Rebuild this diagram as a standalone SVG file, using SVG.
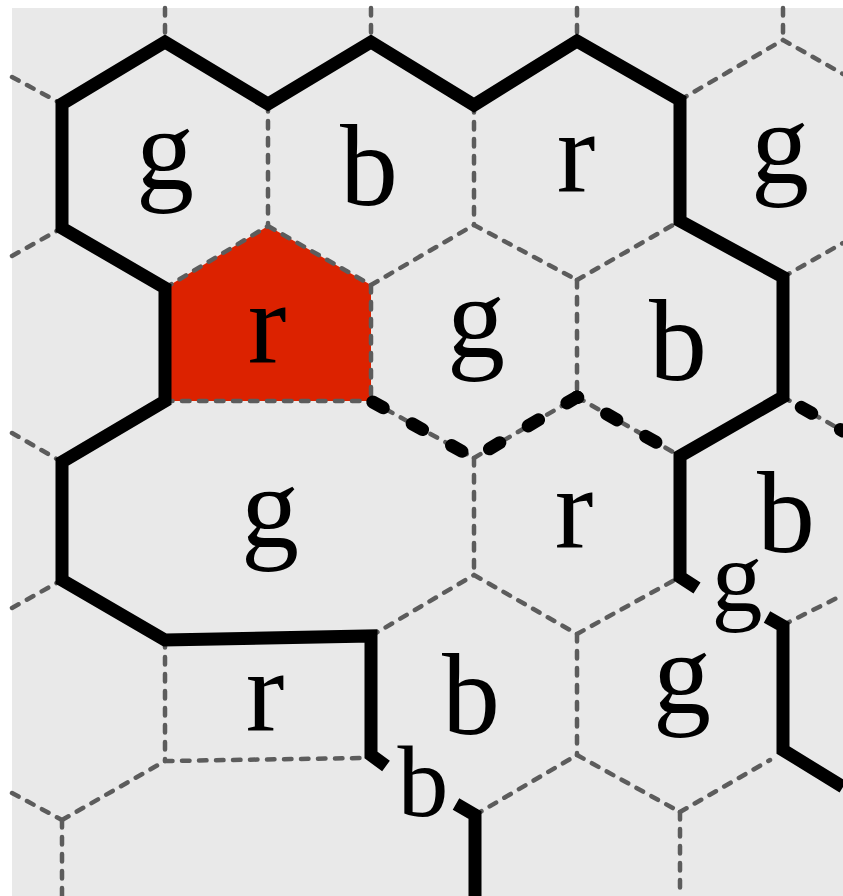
<svg xmlns="http://www.w3.org/2000/svg" width="843" height="896" viewBox="0 0 843 896">
<style>
.bg{fill:#e9e9e9}
.grid{fill:none;stroke:#5c5c5c;stroke-width:4.5;stroke-linecap:round;stroke-dasharray:7.5 9.5}
.wall{fill:none;stroke:#000;stroke-width:13;stroke-linejoin:miter;stroke-miterlimit:10;stroke-linecap:butt}
.weak{fill:none;stroke:#000;stroke-width:13;stroke-linecap:round;stroke-dasharray:12 33}
.lbl{font-family:'Liberation Serif','Times New Roman',Tinos,serif;font-size:116px;fill:#000;text-anchor:middle}
.sm{font-size:102px}
</style>
<rect width="843" height="896" fill="#ffffff"/>
<rect class="bg" x="12" y="8" width="831" height="888"/>
<g id="cell-red">
<polygon points="165,288 268,226 371,285 371,401 165,401" fill="#dc2200"/>
</g>
<g id="connectors">
<g id="grid-lines">
<path class="grid" d="M165,8V42M371,8V42M577,8V41M783,8V40"/>
<path class="grid" d="M680,100L783,40M783,40L843,74M12,77L62,104"/>
<path class="grid" d="M268,104V226M474,105V225"/>
<path class="grid" d="M12,256L62,228M165,288L268,226M268,226L371,285M371,285L474,225M474,225L577,280M577,280L680,221M783,277L843,243"/>
<path class="grid" d="M371,285V401M577,280V397M165,401H371M12,433L62,462"/>
<path class="grid" d="M371,401L474,458M474,458L577,397M577,397L680,456M783,397L843,431"/>
<path class="grid" d="M474,458V575M12,608L62,580M371,636L474,575M474,575L577,634M577,634L680,577M783,625L843,595"/>
<path class="grid" d="M165,640V761M577,634V755"/>
<path class="grid" d="M12,793L62,820M62,820L165,761M165,761L362,758M475,815L577,755M577,755L680,812M680,812L770,760"/>
<path class="grid" d="M62,820V896M680,812V896"/>
</g>
<g id="weak-walls">
<path class="weak" stroke-dashoffset="-2" d="M371,401L474,458"/>
<path class="weak" stroke-dashoffset="-18" d="M474,458L577,397"/>
<path class="weak" stroke-dashoffset="-34" d="M577,397L680,456"/>
<path class="weak" stroke-dashoffset="-21" d="M783,397L843,431"/>
</g>
<g id="walls">
<path class="wall" d="M697,588L680,577V456L783,397V277L680,221V100L577,41L474,105L371,42L268,104L165,42L62,104V228L165,288V401L62,462V580L165,640L371,636V755L386,766"/>
<path class="wall" d="M456,804L475,815V896"/>
<path class="wall" d="M767,617L783,626V750L843,787"/>
</g>
</g>
<g id="node-g1"><text class="lbl" x="165" y="189">g</text></g>
<g id="node-b1"><text class="lbl" x="369" y="205">b</text></g>
<g id="node-r1"><text class="lbl" x="576" y="192">r</text></g>
<g id="node-g1r"><text class="lbl" x="780" y="183">g</text></g>
<g id="node-r2"><text class="lbl" x="267" y="363">r</text></g>
<g id="node-g2"><text class="lbl" x="476" y="357">g</text></g>
<g id="node-b2"><text class="lbl" x="678" y="380">b</text></g>
<g id="node-g3"><text class="lbl" x="270" y="547">g</text></g>
<g id="node-r3"><text class="lbl" x="574" y="548">r</text></g>
<g id="node-b3"><text class="lbl" x="786" y="552">b</text></g>
<g id="node-r4"><text class="lbl" x="265" y="731">r</text></g>
<g id="node-b4"><text class="lbl" x="471" y="734">b</text></g>
<g id="node-g4"><text class="lbl" x="682" y="713">g</text></g>
<g id="node-gs"><text class="lbl sm" x="737" y="611">g</text></g>
<g id="node-bs"><text class="lbl sm" x="423" y="816">b</text></g>
</svg>
